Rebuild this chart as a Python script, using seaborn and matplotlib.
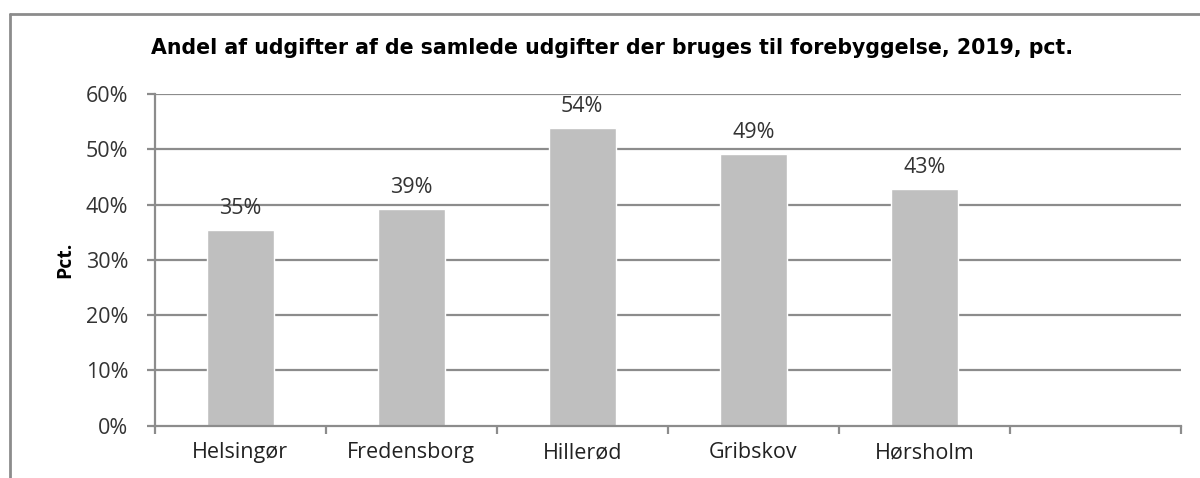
import matplotlib
matplotlib.use("Agg")
import matplotlib.pyplot as plt
import seaborn as sns
import pandas as pd
import numpy as np
from matplotlib.lines import Line2D
from matplotlib.ticker import FixedLocator, PercentFormatter

categories = ["Helsingør", "Fredensborg", "Hillerød", "Gribskov", "Hørsholm"]
values = [35.4, 39.2, 53.8, 49.2, 42.8]
value_labels = ["35%", "39%", "54%", "49%", "43%"]
yticks = [0, 10, 20, 30, 40, 50, 60]
title = "Andel af udgifter af de samlede udgifter der bruges til forebyggelse, 2019, pct."
ylabel = "Pct."

sns.set_style("white")
plt.rcParams["font.family"] = ["Open Sans", "DejaVu Sans"]

df = pd.DataFrame({"cat": categories, "val": values})

fig = plt.figure(figsize=(12, 4.78), dpi=100)
ax = fig.add_axes([0.129, 0.1094, 0.855, 0.694])

sns.barplot(data=df, x="cat", y="val", order=categories, color="#bfbfbf",
            width=0.39, saturation=1, ax=ax, zorder=3)

grid_c = "#8c8c8c"
ax.set_ylim(0, 60)
ax.set_xlim(-0.5, 5.5)
ax.set_yticks(yticks)
ax.yaxis.set_major_formatter(PercentFormatter(decimals=0))
for y in yticks[1:]:
    ax.axhline(y, color=grid_c, lw=1.6, zorder=1)

for sp in ["top", "right"]:
    ax.spines[sp].set_visible(False)
for sp in ["left", "bottom"]:
    ax.spines[sp].set_color(grid_c)
    ax.spines[sp].set_linewidth(1.6)
    ax.spines[sp].set_zorder(4)

ax.tick_params(axis="y", length=6, width=1.6, color=grid_c, labelsize=15.5,
               labelcolor="#333333", pad=13, left=True)
ax.tick_params(axis="x", which="major", length=0, labelsize=15.5,
               labelcolor="#222222", pad=12)
ax.xaxis.set_minor_locator(FixedLocator(np.arange(-0.5, 6.0, 1.0)))
ax.tick_params(axis="x", which="minor", length=6, width=1.6, color=grid_c,
               bottom=True, direction="out")

ax.set_xlabel("")
ax.set_ylabel(ylabel, fontsize=14, fontweight="bold", color="black", labelpad=8)

for i, (v, lab) in enumerate(zip(values, value_labels)):
    ax.text(i, v + 2.0, lab, ha="center", va="bottom", fontsize=15.5,
            color="#333333", zorder=5)

fig.text(0.51, 0.90, title, ha="center", va="center", fontsize=14.8,
         fontweight="bold", family=["Liberation Sans Narrow", "DejaVu Sans"],
         color="black")

# outer chart frame (left and top edges visible)
fig.add_artist(Line2D([10/1200, 10/1200], [0, 1 - 14/478], transform=fig.transFigure,
                      color="#8c8c8c", lw=2))
fig.add_artist(Line2D([10/1200, 1], [1 - 14/478, 1 - 14/478], transform=fig.transFigure,
                      color="#8c8c8c", lw=2))

fig.savefig("out.png", dpi=100, facecolor="white")
